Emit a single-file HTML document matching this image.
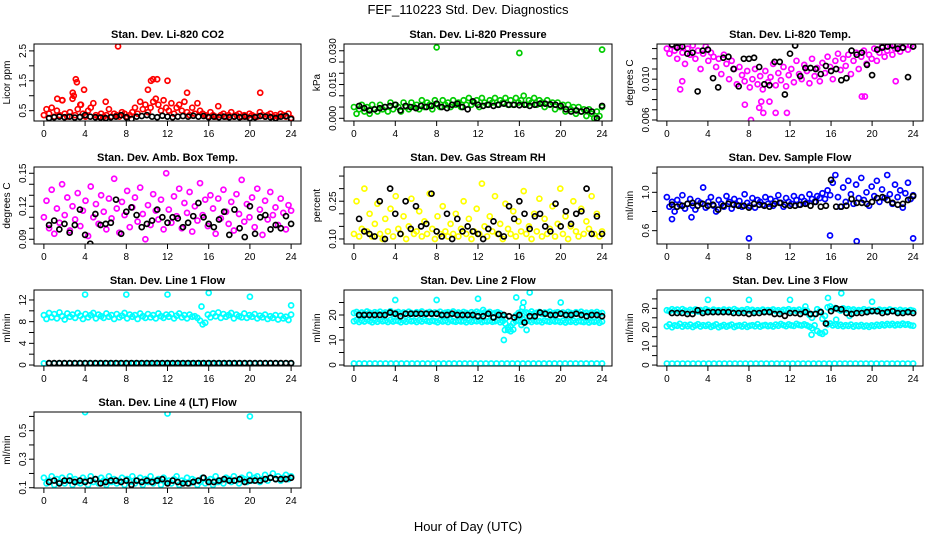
<!DOCTYPE html>
<html><head><meta charset="utf-8"><style>
body{margin:0;background:#fff;}
svg{display:block;font-family:"Liberation Sans",Arial,sans-serif;}
</style></head><body>
<svg id="chart" width="936" height="540" viewBox="0 0 936 540">
<text x="468" y="14" text-anchor="middle" font-size="13">FEF_110223  Std. Dev. Diagnostics</text>
<text x="468" y="531" text-anchor="middle" font-size="13">Hour of Day (UTC)</text>
</svg>
<script>
// ---------- data ----------
const co2Main=[0.35,0.55,0.4,0.6,0.3,0.5,0.35,0.85,0.4,0.3,0.45,0.9,0.35,0.55,0.7,0.4,0.3,0.5,0.6,0.75,
0.35,0.3,0.4,0.3,0.35,0.55,0.3,0.4,0.35,0.3,0.45,0.4,0.3,0.35,0.45,0.6,0.4,0.8,0.55,0.7,
0.45,0.6,0.8,0.9,0.7,0.5,0.85,0.6,0.5,0.75,0.4,0.6,0.7,0.5,0.8,0.45,0.35,0.6,0.4,0.75,
0.5,0.4,0.35,0.3,0.45,0.35,0.3,0.65,0.35,0.4,0.3,0.35,0.45,0.3,0.35,0.4,0.3,0.35,0.3,0.4,
0.35,0.3,0.3,0.45,0.35,0.3,0.35,0.4,0.3,0.35,0.3,0.4,0.35,0.3,0.4,0.25];
const co2OutX=[3.1,3.2,2.8,2.9,3.9,7.2,10.1,10.4,10.6,11,12,13.9,21,1.3,1.8,6,3.6];
const co2OutY=[1.55,1.45,1.1,1.0,1.2,2.65,1.2,1.5,1.55,1.55,1.5,1.1,1.1,0.9,0.85,0.8,0.7];
const co2Black=[0.25,0.28,0.3,0.28,0.3,0.27,0.29,0.35,0.3,0.28,0.27,0.25,0.28,0.3,0.35,0.28,0.22,0.3,0.32,0.35,0.3,0.28,0.33,0.3,0.28,0.3,0.32,0.3,0.33,0.3,0.32,0.28,0.3,0.28,0.3,0.28,0.3,0.28,0.3,0.25,0.28,0.32,0.3,0.28,0.25,0.3,0.32,0.22];

const presMain=[0.005,0.002,0.004,0.006,0.003,0.005,0.002,0.006,0.004,0.003,0.006,0.004,0.005,0.003,0.007,0.004,0.006,0.005,0.003,0.007,
0.005,0.004,0.007,0.005,0.006,0.004,0.008,0.005,0.007,0.006,0.004,0.008,0.006,0.005,0.008,0.006,0.007,0.005,0.008,0.006,
0.007,0.005,0.008,0.006,0.009,0.006,0.007,0.008,0.005,0.009,0.007,0.006,0.008,0.007,0.009,0.006,0.008,0.007,0.009,0.006,
0.008,0.006,0.009,0.007,0.008,0.010,0.006,0.008,0.007,0.009,0.006,0.008,0.007,0.005,0.008,0.006,0.007,0.004,0.007,0.005,
0.006,0.003,0.006,0.004,0.005,0.002,0.005,0.003,0.004,0.001,0.004,0.002,0.000,0.003,0.001,0.005];
const presOutX=[8,16,24];
const presOutY=[0.0315,0.029,0.0305];
const presBlack=[0.0055,0.0045,0.0035,0.004,0.0045,0.005,0.0055,0.006,0.0035,0.0055,0.005,0.0045,0.0055,0.005,0.0055,0.0065,0.005,0.0045,0.006,0.0065,0.005,0.004,0.0075,0.006,0.0055,0.006,0.0055,0.006,0.0065,0.006,0.006,0.0058,0.006,0.0055,0.006,0.0065,0.0065,0.0062,0.006,0.0055,0.004,0.003,0.0035,0.003,0.0035,0.003,0.0,0.0055];

const ltMain=[0.0130,0.0125,0.0133,0.0128,0.0120,0.0132,0.0126,0.0115,0.0130,0.0124,0.0133,0.0120,0.0128,0.0110,0.0125,0.0132,0.0118,0.0126,0.0122,0.0112,
0.0120,0.0105,0.0124,0.0115,0.0100,0.0118,0.0110,0.0095,0.0112,0.0104,0.0098,0.0108,0.0092,0.0100,0.0110,0.0095,0.0103,0.0090,0.0108,0.0097,
0.0102,0.0115,0.0094,0.0106,0.0099,0.0112,0.0093,0.0104,0.0110,0.0097,0.0118,0.0105,0.0100,0.0114,0.0108,0.0096,0.0120,0.0103,0.0111,0.0098,
0.0116,0.0106,0.0122,0.0112,0.0100,0.0118,0.0125,0.0109,0.0120,0.0113,0.0124,0.0105,0.0118,0.0126,0.0110,0.0122,0.0128,0.0115,0.0124,0.0120,
0.0130,0.0118,0.0126,0.0132,0.0122,0.0128,0.0134,0.0124,0.0130,0.0133,0.0127,0.0131,0.0134,0.0129,0.0133,0.0132];
const ltOutX=[8.2,9.4,10.6,11.7,9,7.6,9.2,10,19,19.3,1.3,22.3,1.5];
const ltOutY=[0.0060,0.0067,0.0067,0.0067,0.0072,0.0075,0.0078,0.0078,0.0083,0.0083,0.0090,0.0098,0.0098];
const ltBlack=[0.0134,0.0131,0.0132,0.0125,0.0126,0.0088,0.0128,0.0129,0.0101,0.0092,0.0121,0.0122,0.0110,0.0093,0.0120,0.0120,0.0121,0.0112,0.0095,0.0094,0.0117,0.0117,0.0085,0.0125,0.0133,0.0103,0.0111,0.0111,0.0110,0.0105,0.0113,0.0108,0.0110,0.0099,0.0101,0.0128,0.0124,0.0126,0.0114,0.0104,0.0129,0.0131,0.0132,0.0133,0.0130,0.0131,0.0102,0.0132];

const abMain=[0.110,0.125,0.100,0.135,0.095,0.118,0.105,0.140,0.112,0.128,0.098,0.120,0.108,0.132,0.102,0.116,0.125,0.093,0.138,0.110,
0.122,0.104,0.130,0.115,0.099,0.127,0.109,0.145,0.118,0.096,0.124,0.112,0.134,0.101,0.119,0.128,0.106,0.137,0.113,0.090,
0.121,0.103,0.131,0.116,0.108,0.126,0.099,0.150,0.117,0.105,0.129,0.111,0.136,0.100,0.123,0.114,0.133,0.097,0.120,0.107,
0.141,0.112,0.126,0.102,0.130,0.118,0.095,0.127,0.109,0.135,0.115,0.104,0.124,0.098,0.131,0.113,0.144,0.106,0.122,0.110,
0.128,0.101,0.136,0.117,0.094,0.125,0.108,0.133,0.112,0.119,0.103,0.127,0.114,0.099,0.121,0.116];
const abBlack=[0.103,0.107,0.099,0.104,0.096,0.103,0.117,0.094,0.086,0.113,0.103,0.104,0.105,0.126,0.095,0.115,0.119,0.112,0.101,0.104,0.107,0.117,0.110,0.105,0.110,0.109,0.101,0.105,0.111,0.123,0.110,0.104,0.101,0.108,0.115,0.094,0.117,0.100,0.092,0.120,0.095,0.110,0.112,0.099,0.103,0.100,0.111,0.104];

const rhMain=[0.12,0.25,0.11,0.14,0.30,0.13,0.20,0.11,0.16,0.24,0.12,0.10,0.18,0.13,0.22,0.11,0.27,0.14,0.12,0.19,
0.10,0.15,0.26,0.12,0.13,0.21,0.11,0.17,0.12,0.28,0.14,0.10,0.19,0.12,0.23,0.13,0.11,0.16,0.12,0.20,
0.11,0.14,0.25,0.12,0.18,0.10,0.13,0.22,0.12,0.32,0.15,0.11,0.19,0.13,0.27,0.12,0.16,0.10,0.24,0.14,
0.12,0.21,0.11,0.17,0.13,0.29,0.12,0.15,0.10,0.20,0.13,0.26,0.11,0.18,0.12,0.14,0.23,0.11,0.16,0.30,
0.12,0.19,0.10,0.15,0.25,0.13,0.11,0.22,0.12,0.17,0.14,0.27,0.12,0.20,0.11,0.13];
const rhBlack=[0.18,0.13,0.12,0.11,0.25,0.10,0.30,0.20,0.12,0.25,0.14,0.23,0.15,0.16,0.28,0.13,0.11,0.20,0.10,0.18,0.13,0.15,0.13,0.12,0.10,0.14,0.17,0.12,0.11,0.23,0.18,0.25,0.20,0.14,0.19,0.20,0.15,0.13,0.24,0.15,0.21,0.16,0.20,0.21,0.30,0.12,0.19,0.12];

const sfMain=[0.95,0.85,0.90,0.80,0.92,0.87,0.97,0.83,0.88,0.93,0.86,0.82,0.91,0.89,1.05,0.84,0.90,0.95,0.86,0.80,
0.92,0.88,0.85,0.96,0.90,0.83,0.93,0.87,0.91,0.85,0.98,0.89,0.86,0.94,0.84,0.92,0.90,0.87,0.95,0.88,
0.93,0.86,0.91,0.97,0.89,0.85,0.94,0.90,0.88,0.96,0.92,0.87,0.95,0.91,0.89,0.98,0.93,0.90,0.96,0.94,
0.99,0.93,1.02,0.97,1.10,1.18,0.95,0.85,1.05,0.90,1.12,0.98,0.88,1.08,0.94,1.15,0.92,1.00,0.86,1.06,
0.96,1.12,0.90,1.03,0.94,1.18,0.98,0.88,1.08,0.95,1.02,0.84,0.99,1.10,0.93,0.97];
const sfOutX=[8,15.9,18.5,24,0.5,2.4];
const sfOutY=[0.52,0.55,0.49,0.52,0.72,0.74];
const sfBlack=[0.87,0.85,0.86,0.88,0.89,0.86,0.88,0.86,0.87,0.82,0.86,0.88,0.87,0.86,0.86,0.84,0.88,0.87,0.86,0.85,0.88,0.89,0.87,0.86,0.86,0.87,0.88,0.86,0.90,0.85,0.86,1.13,0.85,0.85,0.86,0.93,0.89,0.89,0.88,0.90,0.94,0.95,0.92,0.89,0.87,0.88,0.92,0.96];

const l1High=[9.2,8.5,9.6,8.8,9.4,8.6,9.7,9.0,8.4,9.5,8.9,9.3,8.7,9.6,9.1,8.5,9.4,8.8,9.2,9.6,
8.6,9.3,9.0,8.7,9.5,8.9,9.2,8.5,9.4,8.8,9.1,9.6,8.6,9.3,8.9,9.2,8.5,9.5,9.0,8.7,
9.4,8.8,9.2,8.6,9.5,9.0,8.7,9.3,8.9,9.4,8.6,9.1,9.5,8.8,9.2,8.6,9.3,8.9,9.0,8.7,
8.2,7.5,7.8,9.3,8.8,9.5,9.0,9.7,8.7,9.4,8.9,9.2,9.6,8.6,9.3,9.0,8.8,9.5,8.7,9.2,
8.9,9.4,8.6,9.1,8.8,9.3,8.5,9.0,8.7,9.2,8.4,9.1,8.6,8.9,8.3,9.3];
const l1Low=[0.3,0.3,0.3,0.3,0.3,0.3,0.3,0.3,0.3,0.3,0.3,0.3,0.3,0.3,0.3,0.3,0.3,0.3,0.3,0.3,0.3,0.3,0.3,0.3,0.3,0.3,0.3,0.3,0.3,0.3,0.3,0.3,0.3,0.3,0.3,0.3,0.3,0.3,0.3,0.3,0.3,0.3,0.3,0.3,0.3,0.3,0.3,0.3];
const l1OutX=[4,8,12,15.3,16,20,24];
const l1OutY=[13,13,13,10.8,13.3,12.6,11];
const l1Black=[0.35,0.35,0.35,0.35,0.35,0.35,0.35,0.35,0.35,0.35,0.35,0.35,0.35,0.35,0.35,0.35,0.35,0.35,0.35,0.35,0.35,0.35,0.35,0.35,0.35,0.35,0.35,0.35,0.35,0.35,0.35,0.35,0.35,0.35,0.35,0.35,0.35,0.35,0.35,0.35,0.35,0.35,0.35,0.35,0.35,0.35,0.35,0.35];

const l2High=[20.8,21.2,20.4,21.0,20.6,21.4,20.9,20.3,21.1,20.7,21.3,20.5,21.0,20.8,21.5,20.4,20.9,21.2,20.6,21.0,
20.5,21.3,20.8,20.4,21.1,20.7,21.4,20.6,20.9,21.2,20.5,21.0,20.8,21.3,20.4,20.9,21.1,20.6,21.4,20.7,
21.0,20.5,21.2,20.8,20.3,21.1,20.6,21.3,20.9,20.4,21.0,20.7,21.2,20.5,20.8,21.1,20.6,19.5,18.5,14.0,
13.5,14.2,19.8,20.8,21.3,20.5,21.0,20.7,21.4,20.6,20.9,21.2,20.4,21.0,20.8,21.3,20.5,20.9,21.1,20.6,
21.0,20.4,21.2,20.8,20.5,21.1,20.7,21.3,20.6,20.9,20.4,21.0,20.7,21.2,20.5,20.8];
const l2Mid=[17.5,18.0,17.2,17.8,17.4,18.2,17.6,17.1,17.9,17.3,18.1,17.5,17.7,17.2,18.0,17.4,17.8,17.6,17.1,17.9,
17.3,18.0,17.5,17.7,17.2,17.9,17.4,18.1,17.6,17.3,17.8,17.5,17.1,17.9,17.4,17.7,17.2,18.0,17.5,17.3,
17.8,17.4,17.6,17.1,17.9,17.3,17.7,17.5,18.0,17.2,17.6,17.4,17.8,17.3,17.5,17.9,17.1,17.6,16.5,15.0,
15.5,16.8,17.5,17.8,17.3,18.0,17.5,17.7,17.2,17.9,17.4,17.6,17.1,17.8,17.5,17.3,17.9,17.4,17.6,17.2,
17.7,17.0,17.5,17.3,17.8,17.1,17.6,17.4,17.2,17.7,17.0,17.5,17.3,17.6,16.9,17.4];
const l2Low=[0.6,0.6,0.6,0.6,0.6,0.6,0.6,0.6,0.6,0.6,0.6,0.6,0.6,0.6,0.6,0.6,0.6,0.6,0.6,0.6,0.6,0.6,0.6,0.6,0.6,0.6,0.6,0.6,0.6,0.6,0.6,0.6,0.6,0.6,0.6,0.6,0.6,0.6,0.6,0.6,0.6,0.6,0.6,0.6,0.6,0.6,0.6,0.6];
const l2OutX=[4,8,12,14.5,14.6,15.7,16.3,16.4,16.7,17,20,12.5,16.2];
const l2OutY=[26,26,26.5,10,14,27,23,25,14,29,25,22,16];
const l2Black=[20,20,20,20,20,20,21,20.5,19.5,20.5,20.5,20.5,20.5,20.5,20.5,20.5,20,20,20.5,20,20,20,20,19.5,19.5,20.5,19,20,20,19.5,19,20,17,19.5,19.5,21,20.5,20,20,20.5,20,20,20.5,20,19.5,20,20,19.5];

const l3High=[29.0,28.5,29.5,28.8,29.3,28.2,29.6,28.9,28.4,29.2,28.7,29.4,28.3,29.1,28.6,29.5,28.9,28.4,29.3,28.8,
29.0,28.5,29.4,28.7,29.2,28.3,29.6,28.9,28.5,29.1,28.6,29.5,28.8,29.2,28.4,29.0,28.7,29.3,28.5,29.1,
28.8,29.4,28.6,29.0,28.3,29.2,28.9,29.5,28.5,29.1,28.7,29.3,28.4,29.0,28.8,26.5,25.0,27.0,29.5,28.5,
24.5,26.0,30.5,31.0,29.8,30.2,29.5,28.8,30.0,29.2,29.6,28.9,29.4,28.6,29.1,28.8,29.5,28.7,29.2,28.5,
29.0,28.4,29.3,28.8,29.1,28.5,29.4,28.7,29.0,28.3,29.2,28.6,28.9,28.4,29.1,28.7];
const l3Mid=[20.5,21.5,20.0,21.0,20.8,21.8,20.3,21.2,20.6,21.4,20.1,20.9,21.6,20.4,21.1,20.7,21.3,20.2,20.8,21.5,
20.0,20.6,21.2,20.3,20.9,21.4,20.1,20.7,21.0,20.4,21.3,20.2,20.8,21.1,20.5,21.6,20.3,20.9,21.2,20.6,
21.0,20.4,21.4,20.8,21.7,21.1,20.6,21.5,21.0,20.7,21.8,21.2,20.9,21.5,21.0,20.3,19.5,21.0,18.0,17.0,
16.5,17.5,21.5,22.0,21.0,21.6,20.8,21.3,20.5,21.1,20.7,21.4,20.3,21.0,20.6,21.2,20.4,20.9,20.2,21.0,
20.6,21.3,20.8,21.5,21.0,21.7,21.2,21.8,21.0,21.5,21.2,21.9,21.3,21.6,21.0,20.8];
const l3Low=[0.8,0.8,0.8,0.8,0.8,0.8,0.8,0.8,0.8,0.8,0.8,0.8,0.8,0.8,0.8,0.8,0.8,0.8,0.8,0.8,0.8,0.8,0.8,0.8,0.8,0.8,0.8,0.8,0.8,0.8,0.8,0.8,0.8,0.8,0.8,0.8,0.8,0.8,0.8,0.8,0.8,0.8,0.8,0.8,0.8,0.8,0.8,0.8];
const l3OutX=[4,8,12,15.7,17,20,14.1,16.5,17.8,13.5];
const l3OutY=[34.5,34.5,34.5,35.5,38,33.5,16,24,26,31];
const l3Black=[27.5,27.5,27.5,27,27,29,27.5,28,28,28,28,28,27.5,27.5,27.5,27,27.5,27.5,28,28,27,27,26,27.5,27.5,27,28,27,27,28,22,28.5,30,29.5,27.5,27,27.5,27.5,28,28.5,28.5,27.5,28,28.5,27.5,27.5,28,27.5];

const l4Main=[0.17,0.13,0.15,0.18,0.12,0.16,0.14,0.17,0.13,0.15,0.18,0.12,0.16,0.14,0.13,0.17,0.15,0.12,0.18,0.14,
0.16,0.13,0.17,0.15,0.12,0.18,0.14,0.16,0.13,0.15,0.17,0.12,0.16,0.14,0.18,0.13,0.15,0.17,0.12,0.16,
0.14,0.18,0.13,0.15,0.16,0.12,0.17,0.14,0.15,0.13,0.16,0.18,0.12,0.15,0.14,0.17,0.13,0.16,0.15,0.12,
0.14,0.17,0.13,0.15,0.16,0.12,0.18,0.14,0.15,0.13,0.17,0.16,0.14,0.18,0.15,0.13,0.17,0.16,0.14,0.19,
0.15,0.17,0.18,0.14,0.16,0.19,0.15,0.17,0.20,0.16,0.18,0.15,0.17,0.19,0.16,0.18];
const l4OutX=[4,12,20];
const l4OutY=[0.63,0.62,0.6];
const l4Black=[0.14,0.15,0.13,0.15,0.15,0.14,0.15,0.14,0.15,0.16,0.13,0.14,0.15,0.15,0.14,0.15,0.12,0.15,0.14,0.15,0.14,0.15,0.16,0.13,0.15,0.14,0.13,0.13,0.14,0.15,0.17,0.14,0.14,0.15,0.16,0.15,0.15,0.16,0.14,0.15,0.15,0.15,0.16,0.17,0.16,0.16,0.16,0.17];

const xTicks=[0,4,8,12,16,20,24];

// ---------- layout ----------
const NS='http://www.w3.org/2000/svg';
const svg=document.getElementById('chart');
function mk(tag,attrs,parent){const e=document.createElementNS(NS,tag);for(const k in attrs)e.setAttribute(k,attrs[k]);(parent||svg).appendChild(e);return e;}
const cols=[[34,301],[344,612],[657,923]];
const rows=[[44,121],[167,244],[290,366],[412,488]];
const RED='#ff0000',GRN='#00cc00',MAG='#ff00ff',YEL='#ffff00',BLU='#0000ff',CYN='#00ffff';
const panels=[
 {name:'co2',title:'Stan. Dev. Li-820 CO2',ylab:'Licor ppm',c:0,r:0,lo:0.155,hi:2.73,ticks:[0.5,1,1.5,2,2.5],labels:[0.5,1.5,2.5],fmt:v=>v.toFixed(1),
  series:[{y:co2Main,col:RED},{x:co2OutX,y:co2OutY,col:RED},{y:co2Black,col:'#000',black:true}]},
 {name:'pressure',title:'Stan. Dev. Li-820 Pressure',ylab:'kPa',c:1,r:0,lo:-0.0012,hi:0.033,ticks:[0,0.005,0.01,0.015,0.02,0.025,0.03],labels:[0,0.015,0.03],fmt:v=>v.toFixed(3),
  series:[{y:presMain,col:GRN},{x:presOutX,y:presOutY,col:GRN},{y:presBlack,col:'#000',black:true}]},
 {name:'li820-temp',title:'Stan. Dev. Li-820 Temp.',ylab:'degrees C',c:2,r:0,lo:0.0059,hi:0.01345,ticks:[0.006,0.007,0.008,0.009,0.010,0.011,0.012,0.013],labels:[0.006,0.010],fmt:v=>v.toFixed(3),
  series:[{y:ltMain,col:MAG},{x:ltOutX,y:ltOutY,col:MAG},{y:ltBlack,col:'#000',black:true}]},
 {name:'amb-box-temp',title:'Stan. Dev. Amb. Box Temp.',ylab:'degrees C',c:0,r:1,lo:0.0857,hi:0.1557,ticks:[0.09,0.10,0.11,0.12,0.13,0.14,0.15],labels:[0.09,0.12,0.15],fmt:v=>v.toFixed(2),
  series:[{y:abMain,col:MAG},{y:abBlack,col:'#000',black:true}]},
 {name:'gas-rh',title:'Stan. Dev. Gas Stream RH',ylab:'percent',c:1,r:1,lo:0.08,hi:0.386,ticks:[0.10,0.15,0.20,0.25,0.30,0.35],labels:[0.10,0.25],fmt:v=>v.toFixed(2),
  series:[{y:rhMain,col:YEL},{y:rhBlack,col:'#000',black:true}]},
 {name:'sample-flow',title:'Stan. Dev. Sample Flow',ylab:'ml/min',c:2,r:1,lo:0.461,hi:1.264,ticks:[0.6,0.8,1.0,1.2],labels:[0.6,1.0],fmt:v=>v.toFixed(1),
  series:[{y:sfMain,col:BLU},{x:sfOutX,y:sfOutY,col:BLU},{y:sfBlack,col:'#000',black:true}]},
 {name:'line1-flow',title:'Stan. Dev. Line 1 Flow',ylab:'ml/min',c:0,r:2,lo:-0.18,hi:13.84,ticks:[0,2,4,6,8,10,12],labels:[0,4,8,12],fmt:v=>String(v),
  series:[{y:l1High,col:CYN},{y:l1Low,col:CYN,start:0},{x:l1OutX,y:l1OutY,col:CYN},{y:l1Black,col:'#000',black:true}]},
 {name:'line2-flow',title:'Stan. Dev. Line 2 Flow',ylab:'ml/min',c:1,r:2,lo:-0.4,hi:30,ticks:[0,5,10,15,20,25],labels:[0,10,20],fmt:v=>String(v),
  series:[{y:l2High,col:CYN},{y:l2Mid,col:CYN},{y:l2Low,col:CYN,start:0},{x:l2OutX,y:l2OutY,col:CYN},{y:l2Black,col:'#000',black:true}]},
 {name:'line3-flow',title:'Stan. Dev. Line 3 Flow',ylab:'ml/min',c:2,r:2,lo:-0.5,hi:39.7,ticks:[0,5,10,15,20,25,30,35],labels:[0,10,20,30],fmt:v=>String(v),
  series:[{y:l3High,col:CYN},{y:l3Mid,col:CYN},{y:l3Low,col:CYN,start:0},{x:l3OutX,y:l3OutY,col:CYN},{y:l3Black,col:'#000',black:true}]},
 {name:'line4-flow',title:'Stan. Dev. Line 4 (LT) Flow',ylab:'ml/min',c:0,r:3,lo:0.098,hi:0.631,ticks:[0.1,0.2,0.3,0.4,0.5,0.6],labels:[0.1,0.3,0.5],fmt:v=>v.toFixed(1),
  series:[{y:l4Main,col:CYN},{x:l4OutX,y:l4OutY,col:CYN},{y:l4Black,col:'#000',black:true}]}
];

panels.forEach(p=>{
  const [x0,x1]=cols[p.c],[y0,y1]=rows[p.r];
  const xs=v=>x0+(x1-x0)*(v+0.96)/25.92;
  const ys=v=>y1-(y1-y0)*(v-p.lo)/(p.hi-p.lo);
  const g=mk('g',{});
  
  
  const clipId='clip-'+p.name;
  const cp=mk('clipPath',{id:clipId},g);
  mk('rect',{x:x0,y:y0,width:x1-x0,height:y1-y0},cp);
  const t=mk('text',{x:(x0+x1)/2,y:y0-6,'text-anchor':'middle','font-size':11,'font-weight':'bold'},g);
  t.textContent=p.title;
  
  
  const yl=mk('text',{x:0,y:0,'text-anchor':'middle','font-size':10,transform:`translate(${x0-24},${(y0+y1)/2}) rotate(-90)`},g);
  yl.textContent=p.ylab;
  
  
  const xa=mk('g',{stroke:'#000','stroke-width':1},g);
  
  
  mk('line',{x1:xs(xTicks[0]),x2:xs(xTicks[xTicks.length-1]),y1:y1,y2:y1},xa);
  xTicks.forEach(v=>{
    mk('line',{x1:xs(v),x2:xs(v),y1:y1,y2:y1+5},xa);
    const tl=mk('text',{x:xs(v),y:y1+16,'text-anchor':'middle','font-size':10,stroke:'none'},g);
    tl.textContent=v;
    
    
  });
  const ya=mk('g',{stroke:'#000','stroke-width':1},g);
  
  
  mk('line',{x1:x0,x2:x0,y1:ys(p.ticks[0]),y2:ys(p.ticks[p.ticks.length-1])},ya);
  p.ticks.forEach(v=>mk('line',{x1:x0-5,x2:x0,y1:ys(v),y2:ys(v)},ya));
  p.labels.forEach(v=>{
    const tl=mk('text',{x:0,y:0,'text-anchor':'middle','font-size':10,transform:`translate(${x0-8},${ys(v)}) rotate(-90)`},g);
    tl.textContent=p.fmt(v);
    
    
  });
  const pts=mk('g',{'clip-path':`url(#${clipId})`,fill:'none','stroke-width':1.7},g);
  p.series.forEach(s=>{
    const sg=mk('g',{stroke:s.col},pts);
    
    
    s.y.forEach((v,i)=>{
      let hx;
      if(s.x) hx=s.x[i];
      else if(s.black) hx=0.5+i*24/s.y.length;
      else hx=i*24/(s.y.length-1);
      const c=mk('circle',{cx:xs(hx),cy:ys(v),r:2.5},sg);
      
      
    });
  });
  mk('rect',{x:x0,y:y0,width:x1-x0,height:y1-y0,fill:'none',stroke:'#000','stroke-width':1},g);
});
</script>
</body></html>
